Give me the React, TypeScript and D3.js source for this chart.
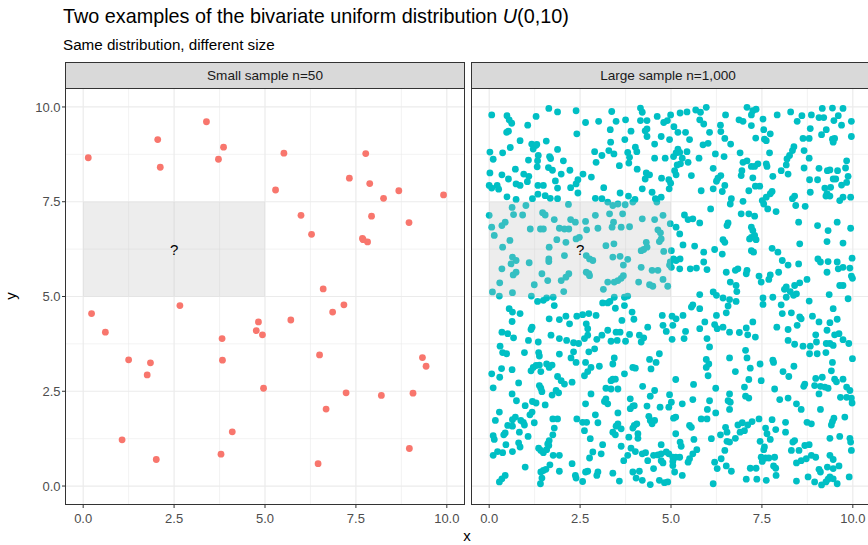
import React from "react";
import * as d3 from "d3";

const TITLE_MAIN = "Two examples of the bivariate uniform distribution ";
const TITLE_VAR = "U";
const TITLE_ARGS = "(0,10)";
const SUBTITLE = "Same distribution, different size";
const FACETS = ["Small sample n=50", "Large sample n=1,000"];
const TICKS = [0, 2.5, 5, 7.5, 10];
const MINOR = [1.25, 3.75, 6.25, 8.75];
const RECT = { x0: 0, x1: 5, y0: 5, y1: 7.5 };
const QMARK = { x: 2.5, y: 6.25, label: "?" };

const smallPts: [number, number][] = [
  [3.39, 9.61], [2.05, 9.14], [3.86, 8.94], [0.14, 8.66], [3.72, 8.62], [2.12, 8.41], [5.52, 8.78], [7.77, 8.77],
  [7.32, 8.12], [7.88, 7.98], [5.29, 7.81], [8.68, 7.79], [8.26, 7.59], [9.91, 7.68], [5.99, 7.14], [7.93, 7.12],
  [8.96, 6.95], [6.28, 6.64], [7.68, 6.53], [7.82, 6.44], [6.6, 5.2], [0.23, 4.55], [2.66, 4.76], [0.61, 4.06],
  [4.82, 4.33], [4.76, 4.1], [4.93, 3.99], [3.82, 3.89], [5.71, 4.38], [6.86, 4.59], [7.17, 4.78], [1.25, 3.33],
  [1.85, 3.25], [1.76, 2.93], [3.83, 3.32], [6.5, 3.46], [9.33, 3.39], [9.43, 3.16], [4.96, 2.58], [7.23, 2.46],
  [8.2, 2.39], [9.07, 2.45], [6.68, 2.03], [4.1, 1.43], [1.07, 1.22], [2.01, 0.7], [3.79, 0.84], [6.46, 0.59],
  [8.97, 0.99], [7.70, 6.50],
];

const largePts: [number, number][] = [
  // top-left
  [0.07, 9.79], [0.49, 9.77], [0.55, 9.66], [0.62, 9.57], [0.48, 9.33], [0.53, 9.36], [1.29, 9.75], [1.64, 9.96],
  [1.88, 9.87], [2.39, 9.9], [2.65, 9.59], [2.41, 9.29], [1.06, 9.52], [0.85, 9.11], [1.17, 9.02], [1.28, 8.98],
  [1.31, 9.01], [1.57, 9.1], [1.21, 8.89], [1.88, 8.88], [0.02, 8.81], [0.37, 8.79], [0.58, 8.93], [0.11, 8.62],
  [1.08, 8.6], [1.35, 8.72], [1.33, 8.58], [1.66, 8.69], [1.69, 8.64], [2.04, 8.58], [1.32, 8.42], [0.72, 8.36],
  [0.95, 8.23], [1.09, 8.17], [1.63, 8.4], [1.74, 8.33], [2.22, 8.33], [2.58, 8.23], [0.02, 8.26], [0.35, 8.21],
  [0.53, 8.1], [1.05, 8.03], [1.82, 8.05], [1.98, 8.23], [2.81, 8.15], [0.0, 7.93], [0.07, 7.86], [0.22, 7.93],
  [0.26, 7.83], [0.74, 7.97], [0.85, 7.93], [1.34, 7.93], [1.49, 7.93], [1.88, 7.86], [2.24, 7.87], [2.39, 7.97],
  [2.44, 8.08], [2.44, 7.73], [1.34, 7.7], [1.54, 7.66], [1.68, 7.59], [1.88, 7.58], [0.49, 7.63], [0.74, 7.56],
  [1.19, 7.58], [2.18, 7.43], [1.01, 7.4], [0.63, 7.35], [0.92, 7.15], [0.67, 7.16], [0.0, 7.14], [1.47, 7.21],
  [1.54, 7.15], [1.79, 7.03], [2.24, 7.03], [2.37, 6.96], [2.65, 6.98], [2.92, 7.59], [2.92, 7.14], [2.94, 8.54],
  [2.9, 8.82], [3.01, 9.62], [0.44, 6.96],
  // top-middle
  [3.37, 9.88], [3.49, 9.62], [3.75, 9.66], [3.33, 9.4], [3.9, 9.36], [4.16, 9.97], [4.21, 9.86], [4.16, 9.64],
  [4.34, 9.64], [4.29, 9.37], [4.34, 9.42], [4.62, 9.75], [4.8, 9.59], [4.9, 9.64], [4.99, 9.79], [5.08, 9.48],
  [5.25, 9.84], [5.44, 9.87], [5.68, 9.92], [5.81, 9.86], [5.97, 9.99], [5.79, 9.66], [5.9, 9.55], [6.36, 9.52],
  [6.5, 9.79], [6.06, 9.33], [6.37, 9.35], [6.48, 9.17], [6.64, 9.02], [3.34, 9.07], [3.73, 9.14], [4.34, 9.22],
  [4.73, 9.22], [4.96, 9.14], [5.19, 9.33], [5.4, 9.33], [5.51, 9.14], [4.55, 9.02], [5.88, 9.0], [6.02, 9.04],
  [3.1, 8.72], [3.29, 8.85], [3.43, 8.76], [3.81, 8.8], [3.86, 8.67], [4.02, 8.94], [4.06, 8.82], [3.58, 8.45],
  [3.84, 8.52], [4.07, 8.36], [4.55, 8.65], [4.84, 8.65], [5.07, 8.69], [5.19, 8.89], [5.14, 8.79], [5.24, 8.8],
  [5.44, 8.82], [5.31, 8.65], [5.26, 8.5], [5.17, 8.47], [5.47, 8.54], [5.77, 8.65], [6.22, 8.76], [6.46, 8.69],
  [6.16, 8.38], [4.32, 8.26], [4.41, 8.21], [4.29, 8.1], [4.74, 8.12], [4.94, 8.08], [4.99, 7.99], [5.14, 8.21],
  [5.1, 8.32], [5.56, 8.19], [6.37, 8.19], [6.29, 8.12], [6.25, 8.04], [6.48, 7.93], [6.16, 7.84], [5.83, 7.79],
  [6.41, 7.77], [3.15, 7.87], [4.21, 7.84], [4.48, 7.75], [4.95, 7.84], [3.6, 7.73], [3.83, 7.65], [4.01, 7.56],
  [3.1, 7.58], [3.26, 7.49], [3.4, 7.4], [3.54, 7.44], [3.74, 7.42], [3.95, 7.49], [4.61, 7.49], [4.73, 7.62],
  [4.57, 7.58], [6.66, 7.58], [6.63, 7.44], [6.09, 7.31], [3.31, 7.18], [3.67, 7.18], [3.42, 6.96], [4.21, 7.05],
  [4.55, 7.03], [4.78, 7.14], [5.37, 7.15], [5.47, 7.03], [5.6, 7.05], [5.79, 6.94], [6.57, 6.94], [4.98, 6.92],
  // top-right
  [7.09, 9.99], [7.25, 9.9], [7.34, 9.94], [7.21, 9.79], [6.87, 9.66], [6.98, 9.62], [7.21, 9.51], [7.53, 9.68],
  [7.92, 9.79], [8.29, 9.87], [8.47, 9.62], [8.6, 9.77], [8.86, 9.79], [9.07, 9.72], [9.2, 9.72], [9.16, 9.96],
  [9.44, 9.97], [9.73, 9.96], [9.6, 9.77], [9.48, 9.64], [9.69, 9.52], [9.96, 9.62], [8.83, 9.43], [8.63, 9.17],
  [8.8, 9.17], [9.14, 9.27], [9.27, 9.4], [9.44, 9.15], [9.46, 9.07], [9.5, 9.17], [9.96, 9.22], [7.33, 9.18],
  [7.55, 9.4], [7.57, 9.15], [7.73, 9.29], [7.62, 9.11], [6.9, 8.79], [7.71, 8.79], [8.38, 8.95], [8.34, 8.85],
  [8.26, 8.72], [8.19, 8.63], [8.66, 8.85], [8.8, 8.65], [7.09, 8.58], [6.98, 8.54], [6.95, 8.32], [6.93, 8.19],
  [7.21, 8.43], [7.3, 8.43], [7.39, 8.5], [7.62, 8.5], [7.64, 8.43], [8.17, 8.47], [8.03, 8.32], [8.22, 8.23],
  [8.66, 8.39], [9.07, 8.38], [9.3, 8.32], [9.37, 8.34], [9.58, 8.32], [9.8, 8.39], [9.83, 8.58], [7.25, 8.13],
  [7.8, 8.17], [8.81, 8.08], [9.03, 8.08], [9.46, 8.1], [9.53, 8.1], [9.87, 8.17], [9.83, 8.01], [9.69, 7.94],
  [9.23, 7.86], [9.39, 7.88], [9.29, 7.71], [9.26, 7.65], [9.37, 7.65], [8.83, 7.75], [7.14, 7.79], [7.32, 7.91],
  [7.44, 7.91], [7.62, 7.62], [7.73, 7.71], [7.78, 7.77], [7.51, 7.53], [7.55, 7.44], [8.4, 7.65], [8.34, 7.58],
  [8.43, 7.4], [8.69, 7.38], [9.64, 7.53], [9.73, 7.62], [9.94, 7.62], [6.98, 7.51], [6.93, 7.18], [7.14, 7.18],
  [7.3, 7.12], [7.66, 7.31], [7.89, 7.24], [8.51, 6.96], [9.57, 6.96],
  // middle-left
  [0.07, 6.83], [0.35, 6.87], [0.14, 6.61], [0.57, 6.48], [0.37, 6.3], [1.13, 6.78], [1.41, 6.78], [1.49, 6.78],
  [1.93, 6.8], [2.07, 6.78], [2.19, 6.78], [2.68, 6.76], [2.99, 6.8], [1.65, 6.3], [1.86, 6.5], [2.11, 6.43],
  [2.39, 6.52], [2.48, 6.56], [2.67, 6.08], [2.76, 5.99], [2.85, 5.95], [2.07, 6.08], [1.64, 5.99], [1.64, 5.92],
  [1.1, 5.89], [0.64, 6.04], [0.74, 5.95], [0.6, 5.86], [0.35, 5.73], [0.74, 5.64], [0.66, 5.57], [1.45, 5.6],
  [1.61, 5.42], [1.98, 5.42], [2.11, 5.51], [2.19, 5.6], [2.67, 5.64], [2.74, 5.6], [2.76, 5.55], [0.29, 5.36],
  [1.24, 5.31], [0.09, 5.12], [0.28, 5.01], [0.64, 5.1], [1.16, 5.01], [2.05, 5.13], [1.33, 4.87], [1.49, 4.9],
  [1.58, 4.96], [1.76, 4.98], [1.79, 4.76], [0.55, 4.68], [0.64, 4.59], [0.85, 4.55], [0.63, 4.34], [1.18, 4.19],
  [1.15, 4.13], [1.65, 4.41], [1.93, 4.39], [2.11, 4.48], [2.21, 4.28], [2.41, 4.48], [2.57, 4.52], [2.74, 4.55],
  [2.94, 4.5], [2.67, 4.28], [2.71, 4.15], [2.71, 3.98], [1.7, 3.98], [1.93, 3.89], [2.13, 3.84], [2.32, 3.78],
  [2.46, 3.76], [2.62, 3.89], [2.96, 3.87], [0.35, 4.06], [0.51, 4.02], [0.67, 3.91], [1.08, 3.84], [1.35, 3.8],
  [0.3, 3.69], [0.37, 3.52], [0.48, 3.49], [0.97, 3.52], [1.36, 3.52], [1.38, 3.43], [1.93, 3.48], [2.32, 3.54],
  [2.74, 3.54], [2.9, 3.62], [2.25, 3.38],
  // middle
  [3.38, 6.83], [3.63, 6.83], [3.86, 6.84], [4.64, 6.76], [4.71, 6.68], [5.14, 6.83], [5.24, 6.65], [6.54, 6.87],
  [3.21, 6.34], [3.43, 6.39], [4.73, 6.52], [4.68, 6.45], [4.32, 6.43], [4.18, 6.21], [4.25, 6.24], [4.34, 6.3],
  [4.8, 6.19], [5.01, 6.21], [5.33, 6.36], [5.65, 6.33], [5.9, 6.17], [6.2, 6.24], [6.43, 6.5], [6.48, 6.43],
  [6.41, 6.12], [3.4, 6.04], [3.6, 6.06], [3.81, 5.98], [3.69, 5.83], [5.25, 5.99], [5.07, 5.99], [5.14, 5.95],
  [4.98, 5.91], [5.01, 5.77], [5.24, 5.73], [4.96, 5.83], [5.53, 5.73], [5.7, 5.75], [5.9, 5.91], [5.99, 5.71],
  [6.52, 5.64], [6.63, 5.38], [4.18, 5.77], [4.48, 5.69], [4.64, 5.69], [3.69, 5.55], [3.63, 5.48], [3.54, 5.42],
  [3.26, 5.38], [3.44, 5.38], [4.11, 5.38], [4.41, 5.31], [4.5, 5.27], [4.78, 5.45], [4.91, 5.27], [3.14, 5.19],
  [6.16, 5.12], [6.25, 5.03], [6.43, 4.96], [5.79, 5.05], [6.61, 4.92], [6.57, 4.75], [3.44, 4.98], [3.72, 4.98],
  [3.81, 5.01], [3.12, 4.83], [3.26, 4.83], [3.32, 4.87], [3.72, 4.76], [3.47, 4.69], [3.93, 4.59], [5.6, 4.78],
  [5.56, 4.72], [4.76, 4.5], [5.03, 4.48], [5.14, 4.41], [5.33, 4.5], [5.79, 4.68], [6.25, 4.5], [6.52, 4.57],
  [3.65, 4.37], [3.98, 4.4], [4.78, 4.24], [5.05, 4.24], [5.79, 4.15], [5.93, 4.33], [6.2, 4.26], [6.27, 4.15],
  [6.43, 4.19], [6.61, 4.06], [4.87, 4.08], [5.4, 4.08], [3.26, 4.11], [3.49, 4.06], [3.6, 4.06], [3.1, 3.98],
  [4.36, 4.19], [4.13, 3.98], [4.25, 3.91], [3.86, 4.0], [3.52, 3.84], [3.35, 3.82], [3.75, 3.82], [4.18, 3.8],
  [5.03, 3.87], [5.36, 3.89], [5.99, 3.89], [6.06, 3.67], [4.68, 3.49], [3.44, 3.38], [4.41, 3.34], [5.97, 3.34],
  [6.61, 3.38],
  // middle-right
  [7.21, 6.83], [7.25, 6.74], [7.21, 6.56], [7.3, 6.61], [7.34, 6.5], [7.16, 6.52], [7.21, 6.21], [7.27, 6.17],
  [7.78, 6.27], [7.94, 6.17], [8.06, 5.95], [8.22, 5.83], [8.51, 5.86], [8.54, 6.39], [9.03, 6.87], [9.32, 6.74],
  [9.29, 6.45], [9.73, 6.41], [9.94, 6.8], [9.04, 5.99], [9.11, 5.91], [9.32, 5.92], [9.57, 5.91], [9.73, 5.77],
  [9.6, 5.73], [9.92, 5.75], [9.98, 6.01], [9.29, 5.64], [9.96, 5.54], [9.99, 5.48], [6.84, 5.73], [6.77, 5.69],
  [7.09, 5.69], [7.07, 5.6], [7.42, 5.54], [7.48, 5.38], [7.69, 5.45], [7.73, 5.57], [7.96, 5.64], [8.74, 5.45],
  [8.54, 5.36], [8.4, 5.29], [8.17, 5.25], [8.12, 5.19], [8.28, 5.13], [8.37, 5.03], [8.45, 5.07], [8.17, 4.98],
  [7.8, 4.98], [7.53, 4.96], [7.53, 4.79], [6.79, 5.29], [6.81, 5.13], [6.79, 4.87], [8.8, 4.88], [9.35, 5.05],
  [9.87, 4.94], [9.64, 5.29], [9.73, 5.29], [8.03, 4.78], [8.06, 4.55], [8.31, 4.57], [8.54, 4.46], [8.58, 4.41],
  [8.47, 4.24], [8.89, 4.48], [9.07, 4.33], [9.37, 4.31], [9.57, 4.4], [9.46, 4.68], [7.25, 4.33], [7.07, 4.17],
  [6.88, 4.05], [7.11, 3.99], [7.32, 3.93], [7.91, 4.19], [8.22, 4.13], [8.98, 3.99], [9.29, 4.11], [9.5, 3.99],
  [9.62, 4.02], [9.73, 3.86], [9.89, 3.76], [8.22, 3.84], [8.4, 3.74], [8.63, 3.69], [8.83, 3.69], [9.0, 3.8],
  [9.27, 3.76], [9.37, 3.76], [9.46, 3.71], [7.05, 3.58], [7.09, 3.38], [8.81, 3.49], [9.02, 3.49], [9.26, 3.52],
  [7.8, 3.32], [9.99, 3.36],
  // bottom-left
  [0.34, 3.1], [0.63, 3.07], [0.07, 2.96], [0.29, 2.87], [0.81, 2.72], [0.11, 2.59], [1.15, 3.04], [1.21, 3.13],
  [1.29, 3.18], [1.38, 3.19], [1.42, 3.02], [1.58, 3.22], [1.65, 3.13], [1.73, 3.19], [1.88, 2.89], [1.98, 2.78],
  [2.07, 2.69], [2.28, 2.74], [2.39, 3.26], [2.65, 3.26], [2.8, 3.13], [3.03, 3.16], [2.62, 2.91], [2.71, 3.02],
  [0.63, 2.43], [0.75, 2.25], [1.38, 2.65], [1.42, 2.58], [1.45, 2.49], [1.73, 2.4], [1.84, 2.52], [1.91, 2.46],
  [1.54, 2.14], [0.99, 2.12], [1.19, 2.23], [1.29, 2.19], [0.28, 1.95], [0.17, 1.73], [0.64, 1.75], [0.72, 1.82],
  [0.51, 1.6], [0.64, 1.58], [0.87, 1.73], [0.94, 1.68], [0.97, 1.61], [1.12, 1.88], [1.18, 1.95], [1.24, 1.67],
  [1.75, 1.77], [1.88, 1.77], [0.83, 1.42], [1.07, 1.31], [0.11, 1.33], [0.14, 1.23], [0.4, 1.35], [0.44, 1.4],
  [0.46, 1.09], [0.81, 1.14], [0.85, 1.03], [0.64, 0.91], [0.23, 0.91], [0.11, 0.81], [0.37, 0.88], [1.36, 1.0],
  [1.42, 0.94], [1.49, 0.88], [1.58, 0.96], [1.64, 1.07], [1.65, 1.2], [1.61, 1.11], [1.75, 1.35], [1.79, 1.53],
  [1.76, 0.81], [1.93, 0.81], [1.67, 0.56], [1.42, 0.37], [1.49, 0.41], [1.56, 0.44], [1.45, 0.21], [1.41, 0.06],
  [1.93, 0.39], [2.28, 0.59], [2.37, 0.28], [2.39, 0.21], [2.57, 0.12], [0.99, 0.5], [0.28, 0.11], [0.35, 0.19],
  [0.44, 0.28], [2.41, 1.77], [2.57, 1.68], [2.68, 1.68], [2.99, 1.67], [2.62, 1.46], [2.78, 1.25], [2.92, 1.88],
  [2.85, 0.9], [2.76, 0.74], [2.71, 0.39], [2.65, 0.37], [2.99, 0.37], [2.96, 0.28], [2.8, 2.43], [2.65, 2.17],
  // bottom-middle
  [3.4, 3.22], [3.95, 3.13], [4.02, 3.11], [4.45, 3.09], [4.59, 3.26], [5.97, 3.13], [6.04, 3.22], [6.02, 2.91],
  [3.72, 2.96], [3.4, 2.82], [3.47, 2.82], [3.35, 2.78], [3.21, 2.58], [3.35, 2.56], [3.54, 2.56], [4.22, 2.63],
  [4.55, 2.52], [4.43, 2.37], [5.13, 2.81], [5.62, 2.68], [6.23, 2.58], [4.96, 2.41], [5.01, 2.21], [4.94, 2.08],
  [4.7, 2.08], [4.34, 2.11], [3.88, 2.3], [3.95, 2.11], [3.88, 2.04], [3.99, 2.12], [3.21, 2.3], [3.26, 2.17],
  [3.17, 2.23], [5.31, 2.17], [5.6, 2.28], [6.06, 2.25], [6.61, 2.43], [6.57, 2.25], [6.63, 2.21], [6.0, 2.02],
  [6.23, 1.93], [6.61, 2.02], [5.83, 1.77], [5.99, 1.77], [5.51, 1.6], [5.56, 1.55], [5.13, 1.82], [5.07, 1.79],
  [4.39, 1.84], [4.43, 1.73], [4.48, 1.64], [4.55, 1.73], [3.54, 1.93], [3.54, 1.64], [3.49, 1.58], [3.4, 1.42],
  [3.47, 1.35], [3.63, 1.51], [3.99, 1.6], [4.06, 1.64], [3.95, 1.53], [4.09, 1.38], [4.09, 1.26], [3.84, 1.29],
  [5.13, 1.38], [5.63, 1.23], [6.11, 1.25], [6.36, 1.35], [6.5, 1.55], [6.54, 1.42], [6.61, 1.16], [6.54, 1.18],
  [6.48, 0.94], [5.25, 1.16], [5.28, 1.05], [4.73, 1.09], [3.12, 1.09], [3.08, 0.85], [3.63, 1.05], [3.9, 1.0],
  [4.02, 0.91], [4.21, 0.85], [4.3, 0.88], [4.36, 0.67], [4.52, 0.81], [4.64, 0.82], [4.73, 0.85], [4.87, 0.9],
  [4.94, 0.85], [4.73, 0.67], [4.78, 0.61], [5.05, 0.76], [5.13, 0.76], [5.24, 0.76], [5.05, 0.65], [5.05, 0.54],
  [5.71, 0.96], [5.6, 0.85], [5.51, 0.72], [5.47, 0.63], [3.7, 0.67], [3.81, 0.81], [6.38, 0.72], [6.2, 0.63],
  [6.27, 0.46], [6.52, 0.53], [6.66, 0.39], [4.13, 0.39], [3.95, 0.37], [4.04, 0.21], [4.21, 0.15], [4.43, 0.04],
  [4.52, 0.46], [4.68, 0.15], [4.82, 0.09], [4.91, 0.11], [5.1, 0.37], [5.31, 0.28], [6.16, 0.06], [3.4, 0.34],
  [3.58, 0.13],
  // bottom-right
  [6.77, 3.02], [7.18, 3.11], [7.45, 3.22], [7.82, 3.26], [7.14, 2.81], [7.02, 2.61], [7.48, 2.78], [8.08, 3.02],
  [8.24, 2.89], [8.38, 3.16], [8.68, 2.69], [8.65, 2.63], [8.98, 2.84], [9.16, 2.87], [9.44, 3.26], [9.41, 3.04],
  [9.5, 2.82], [9.55, 2.75], [9.73, 2.82], [8.95, 2.65], [9.11, 2.63], [9.23, 2.61], [9.32, 2.58], [9.07, 2.43],
  [9.83, 2.61], [9.92, 2.52], [7.05, 2.37], [7.14, 2.32], [7.85, 2.56], [7.99, 2.28], [8.22, 2.32], [8.45, 2.17],
  [8.58, 2.02], [9.11, 2.02], [9.66, 2.34], [9.83, 2.34], [9.96, 2.32], [9.98, 2.19], [9.78, 1.82], [6.84, 1.61],
  [6.96, 1.67], [7.11, 1.61], [7.23, 1.7], [7.42, 1.77], [6.9, 1.42], [7.02, 1.46], [6.77, 1.26], [7.78, 1.75],
  [7.6, 1.53], [7.64, 1.38], [7.73, 1.23], [7.88, 1.49], [8.15, 1.68], [8.15, 1.42], [8.74, 1.68], [8.86, 1.64],
  [9.44, 1.7], [9.48, 1.79], [9.41, 1.61], [9.37, 1.26], [9.64, 1.31], [9.92, 1.26], [9.94, 1.16], [9.96, 0.94],
  [7.45, 1.18], [7.57, 1.03], [7.55, 0.96], [7.48, 0.76], [7.6, 0.74], [7.69, 0.74], [7.85, 0.76], [7.51, 0.65],
  [7.82, 0.53], [7.88, 0.47], [8.35, 1.16], [8.4, 1.2], [8.31, 0.94], [8.52, 0.94], [8.68, 1.07], [8.8, 1.09],
  [8.45, 0.61], [8.58, 0.67], [8.72, 0.72], [8.86, 0.81], [8.98, 0.76], [7.18, 0.47], [7.34, 0.47], [9.37, 0.81],
  [9.46, 0.7], [9.3, 0.5], [9.46, 0.46], [9.62, 0.53], [9.07, 0.44], [9.11, 0.37], [7.07, 0.18], [7.36, 0.18],
  [7.62, 0.15], [7.89, 0.28], [8.45, 0.13], [8.77, 0.24], [8.95, 0.11], [9.14, 0.03], [9.26, 0.11], [9.32, 0.18],
  [9.37, 0.24], [9.46, 0.19], [9.57, 0.06], [9.9, 0.24],
];

const COLORS = ["#F8766D", "#00BFC4"];
const FONT = "'Liberation Sans', Arial, Helvetica, sans-serif";

const W = 868;
const H = 545;
const PANEL_TOP = 88;
const PANEL_BOTTOM = 505;
const STRIP_TOP = 62;
const PANELS = [
  { x0: 65, x1: 465, data: smallPts, label: FACETS[0], color: COLORS[0] },
  { x0: 471, x1: 871, data: largePts, label: FACETS[1], color: COLORS[1] },
];

const fmt = d3.format(".1f");

export default function App() {
  const yScale = d3.scaleLinear().domain([-0.5, 10.5]).range([PANEL_BOTTOM, PANEL_TOP]);
  return (
    <svg
      width={W}
      height={H}
      viewBox={`0 0 ${W} ${H}`}
      style={{ position: "absolute", left: 0, top: 0, background: "#fff" }}
      fontFamily={FONT}
    >
      <rect x={0} y={0} width={W} height={H} fill="#fff" />
      <text x={63} y={23} fontSize={19.8} fill="#000">
        {TITLE_MAIN}
        <tspan fontStyle="italic">{TITLE_VAR}</tspan>
        {TITLE_ARGS}
      </text>
      <text x={63} y={50} fontSize={15.2} fill="#000">
        {SUBTITLE}
      </text>
      <defs>
        {PANELS.map((p, i) => (
          <clipPath id={`clip${i}`} key={i}>
            <rect x={p.x0} y={PANEL_TOP} width={p.x1 - p.x0} height={PANEL_BOTTOM - PANEL_TOP} />
          </clipPath>
        ))}
      </defs>
      {PANELS.map((p, i) => {
        const xScale = d3.scaleLinear().domain([-0.5, 10.5]).range([p.x0, p.x1]);
        return (
          <g key={i}>
            <rect
              x={p.x0 + 0.5}
              y={STRIP_TOP + 0.5}
              width={p.x1 - p.x0 - 1}
              height={PANEL_TOP - STRIP_TOP}
              fill="#D9D9D9"
              stroke="#333333"
              strokeWidth={1}
            />
            <text
              x={(p.x0 + p.x1 - (i === 1 ? 6 : 0)) / 2}
              y={(STRIP_TOP + PANEL_TOP) / 2 + 4.6}
              textAnchor="middle"
              fontSize={13.6}
              fill="#1A1A1A"
            >
              {p.label}
            </text>
            <g clipPath={`url(#clip${i})`}>
              <rect x={p.x0} y={PANEL_TOP} width={p.x1 - p.x0} height={PANEL_BOTTOM - PANEL_TOP} fill="#fff" />
              {MINOR.map((t) => (
                <g key={`m${t}`}>
                  <line x1={xScale(t)} x2={xScale(t)} y1={PANEL_TOP} y2={PANEL_BOTTOM} stroke="#EBEBEB" strokeWidth={0.6} />
                  <line x1={p.x0} x2={p.x1} y1={yScale(t)} y2={yScale(t)} stroke="#EBEBEB" strokeWidth={0.6} />
                </g>
              ))}
              {TICKS.map((t) => (
                <g key={`M${t}`}>
                  <line x1={xScale(t)} x2={xScale(t)} y1={PANEL_TOP} y2={PANEL_BOTTOM} stroke="#EBEBEB" strokeWidth={1.2} />
                  <line x1={p.x0} x2={p.x1} y1={yScale(t)} y2={yScale(t)} stroke="#EBEBEB" strokeWidth={1.2} />
                </g>
              ))}
              {p.data.map((d, j) => (
                <circle key={j} cx={xScale(d[0])} cy={yScale(d[1])} r={3.4} fill={p.color} />
              ))}
              <rect
                x={xScale(RECT.x0)}
                y={yScale(RECT.y1)}
                width={xScale(RECT.x1) - xScale(RECT.x0)}
                height={yScale(RECT.y0) - yScale(RECT.y1)}
                fill="#BEBEBE"
                fillOpacity={0.28}
              />
              <text x={xScale(QMARK.x)} y={yScale(QMARK.y) + 5.5} textAnchor="middle" fontSize={15} fill="#000">
                {QMARK.label}
              </text>
            </g>
            <rect
              x={p.x0 + 0.5}
              y={PANEL_TOP + 0.5}
              width={p.x1 - p.x0 - 1}
              height={PANEL_BOTTOM - PANEL_TOP - 1}
              fill="none"
              stroke="#333333"
              strokeWidth={1}
            />
            {TICKS.map((t) => (
              <g key={`xt${t}`}>
                <line x1={xScale(t)} x2={xScale(t)} y1={PANEL_BOTTOM} y2={PANEL_BOTTOM + 3} stroke="#333333" strokeWidth={1} />
                <text x={xScale(t)} y={PANEL_BOTTOM + 18} textAnchor="middle" fontSize={13} fill="#4D4D4D">
                  {fmt(t)}
                </text>
              </g>
            ))}
            {i === 0 &&
              TICKS.map((t) => (
                <g key={`yt${t}`}>
                  <line x1={p.x0 - 3} x2={p.x0} y1={yScale(t)} y2={yScale(t)} stroke="#333333" strokeWidth={1} />
                  <text x={p.x0 - 4.5} y={yScale(t) + 4.6} textAnchor="end" fontSize={13} fill="#4D4D4D">
                    {fmt(t)}
                  </text>
                </g>
              ))}
          </g>
        );
      })}
      <text x={467} y={541} textAnchor="middle" fontSize={15} fill="#000">
        x
      </text>
      <text x={16} y={296} textAnchor="middle" fontSize={15} fill="#000" transform="rotate(-90 16 296)">
        y
      </text>
    </svg>
  );
}
